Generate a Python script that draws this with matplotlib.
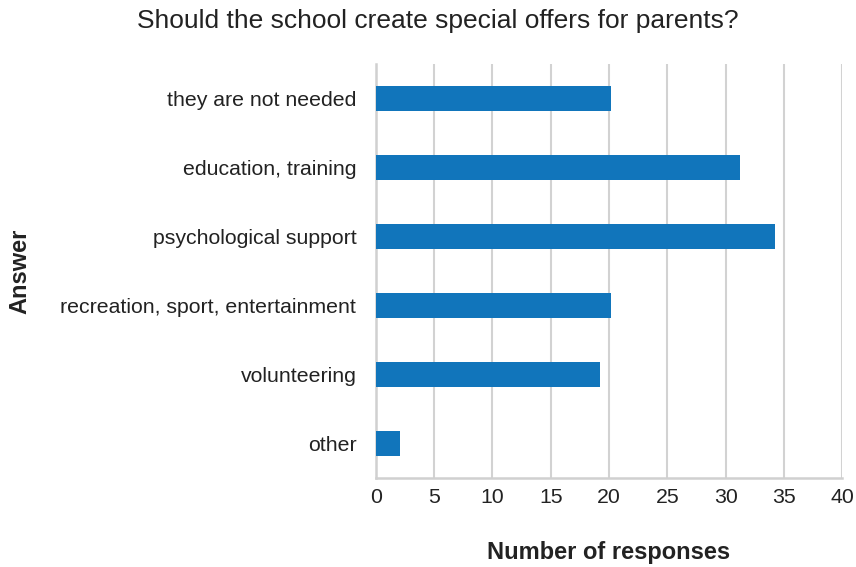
import numpy as np
import matplotlib
matplotlib.use('Agg')
import matplotlib.pyplot as plt

# =====================
# data
# =====================
answers = ['they are not needed', 'education, training', 'psychological support',
           'recreation, sport, entertainment', 'volunteering', 'other']
responses = [20.2, 31.2, 34.2, 20.2, 19.2, 2.1]
xticks = [0, 5, 10, 15, 20, 25, 30, 35, 40]

plt.rcParams['font.family'] = ['Liberation Sans', 'DejaVu Sans']

fig = plt.figure(figsize=(8.56, 5.67), dpi=100)
ax = fig.add_axes([0.439, 0.157, 0.545, 0.730])

y = np.arange(len(answers))
ax.barh(y, responses, height=0.36, color='#1175bb', zorder=3)

ax.set_ylim(len(answers) - 0.5, -0.5)
ax.set_xlim(0, 40)
ax.set_xticks(xticks)
ax.set_yticks(y)
ax.set_yticklabels(answers, fontsize=15.3, color='#222222')
ax.tick_params(axis='x', labelsize=15.3, colors='#222222', length=0, pad=7)
ax.tick_params(axis='y', length=0, pad=14)

# grid / spines
ax.grid(axis='x', color='#d2d2d2', linewidth=1.5, zorder=0)
for s in ['top', 'right']:
    ax.spines[s].set_visible(False)
for s in ['left', 'bottom']:
    ax.spines[s].set_color('#d0d0d0')
    ax.spines[s].set_linewidth(1.8)

ax.set_xlabel('Number of responses', fontsize=17, fontweight='bold', color='#222222')
ax.xaxis.set_label_coords(0.5, -0.152)
ax.set_ylabel('Answer', fontsize=17, fontweight='bold', color='#222222')
ax.yaxis.set_label_coords(-0.738, 0.5)

fig.text(0.511, 0.963, 'Should the school create special offers for parents?',
         ha='center', va='center', fontsize=19, color='#222222')

fig.savefig('out.png', dpi=100)
